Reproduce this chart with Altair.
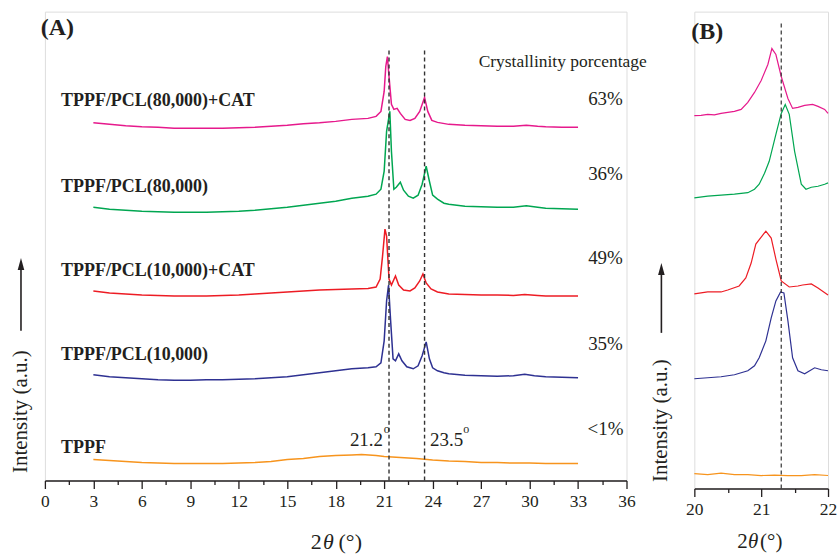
import altair as alt
import pandas as pd

# ---------------- Panel A data (2theta in degrees, intensity in a.u., curves already stacked) ----------------
series_names = ["TPPF", "TPPF/PCL(10,000)", "TPPF/PCL(10,000)+CAT", "TPPF/PCL(80,000)", "TPPF/PCL(80,000)+CAT"]
series_colors = ["#F7941D", "#2E3192", "#ED1C24", "#00A651", "#E6198C"]

a_tppf_x = [3, 4, 5, 6, 7, 8, 9, 10, 11, 12, 13, 14, 15, 16, 17, 18, 19, 19.6, 20.5, 21, 22, 23, 24, 25, 26, 27, 28, 29, 30, 31, 32, 33]
a_tppf_y = [21, 20, 19, 18, 17.5, 17, 17, 17, 17, 17.5, 18, 19, 21, 22, 24, 25, 25.5, 26, 25, 24, 23, 22, 20.5, 19.5, 19, 18, 18, 17.5, 17.5, 17, 17, 17]

a_p10_x = [3, 4, 5, 6, 7, 8, 9, 10, 11, 12, 13, 14, 15, 16, 17, 18, 19, 20, 20.5, 20.8, 21.0, 21.15, 21.27, 21.4, 21.55, 21.7, 21.9, 22.1, 22.4, 22.8, 23.1, 23.35, 23.6, 23.8, 24.0, 24.3, 24.7, 25, 26, 27, 28, 29, 29.7, 30.3, 31, 32, 33]
a_p10_y = [106, 104, 103, 102, 101, 100.5, 100.5, 101, 101, 101.5, 102, 103, 104, 106, 108, 110, 112, 113, 114, 118, 140, 180, 196, 160, 122, 120, 127, 120, 114, 112, 115, 125, 139, 122, 113, 110, 108, 107, 105.5, 105, 104.5, 105, 106.5, 105, 104, 103.5, 103]

a_p10c_x = [3, 4, 5, 6, 7, 8, 9, 10, 11, 12, 13, 14, 15, 16, 17, 18, 19, 20, 20.5, 20.75, 20.9, 21.05, 21.15, 21.3, 21.45, 21.7, 21.9, 22.2, 22.6, 22.9, 23.2, 23.4, 23.6, 23.9, 24.3, 25, 26, 27, 28, 29, 29.7, 30.5, 31, 32, 33]
a_p10c_y = [190, 188, 187, 186, 185.5, 185, 185, 185, 185.5, 186, 187, 188, 189, 190, 191, 191.5, 192, 192.5, 194, 202, 225, 252, 245, 202, 196, 205, 196, 191, 190, 193, 200, 207, 198, 192, 189, 187, 186.5, 186, 186, 185.5, 186.5, 185.5, 185, 185, 185]

a_p80_x = [3, 4, 5, 6, 7, 8, 9, 10, 11, 12, 13, 14, 15, 16, 17, 18, 19, 20, 20.5, 20.8, 21.0, 21.15, 21.35, 21.45, 21.6, 21.75, 22.0, 22.2, 22.5, 22.8, 23.1, 23.35, 23.6, 23.8, 24.0, 24.3, 24.7, 25, 26, 27, 28, 29, 29.8, 30.5, 31, 32, 33]
a_p80_y = [274, 272, 271, 270, 269.5, 269, 269, 269, 269.5, 270, 271, 272.5, 274, 276, 278, 280, 283, 285, 287, 292, 310, 350, 370, 330, 292, 294, 299, 291, 285, 283, 286, 297, 315, 300, 286, 282, 278, 277, 275, 274.5, 274, 274, 275.5, 274, 273, 272.5, 272]

a_p80c_x = [3, 4, 5, 6, 7, 8, 9, 10, 11, 12, 13, 14, 15, 16, 17, 18, 19, 20, 20.5, 20.8, 21.0, 21.1, 21.2, 21.3, 21.45, 21.6, 21.8, 22.0, 22.3, 22.6, 22.9, 23.2, 23.5, 23.7, 23.95, 24.3, 25, 26, 27, 28, 29, 29.8, 30.5, 31, 32, 33]
a_p80c_y = [358.5, 357, 355.5, 354.5, 354, 353, 353, 353, 353, 353.5, 354, 355, 356, 357.5, 358.5, 360, 362, 363, 365, 370, 390, 415, 425, 405, 377, 372, 373, 368, 362, 361, 363, 370, 384, 370, 361, 359, 357, 356, 355.5, 355, 355, 356, 355, 354.5, 354, 354]

# ---------------- Panel B data (zoom 20-22 degrees) ----------------
b_tppf_x = [20, 20.2, 20.4, 20.6, 20.8, 21.0, 21.2, 21.4, 21.6, 21.8, 22]
b_tppf_y = [15, 14, 15.5, 14, 14, 13, 13.5, 13, 13, 14, 13]

b_p10_x = [20, 20.2, 20.4, 20.6, 20.8, 20.9, 20.97, 21.07, 21.15, 21.22, 21.29, 21.34, 21.4, 21.47, 21.55, 21.65, 21.8, 21.9, 22]
b_p10_y = [110, 111, 112, 114, 118, 123, 131, 148, 171, 188, 197, 196, 168, 131, 118, 115, 121, 119, 118]

b_p10c_x = [20, 20.2, 20.4, 20.5, 20.67, 20.77, 20.85, 20.92, 21.0, 21.07, 21.15, 21.22, 21.3, 21.42, 21.55, 21.62, 21.75, 21.85, 22]
b_p10c_y = [195, 197, 197, 199, 203, 211, 226, 245, 252, 258, 251, 230, 208, 202, 203, 204, 205, 201, 194]

b_p80_x = [20, 20.2, 20.4, 20.6, 20.8, 20.9, 20.97, 21.05, 21.12, 21.22, 21.3, 21.36, 21.42, 21.5, 21.6, 21.67, 21.75, 21.85, 21.95, 22]
b_p80_y = [291.3, 293, 294, 295, 296.5, 300, 305, 316, 328, 355, 376, 385, 375, 338, 305, 300, 302, 303, 305, 306.3]

b_p80c_x = [20, 20.1, 20.2, 20.3, 20.4, 20.5, 20.6, 20.7, 20.8, 20.9, 21.0, 21.1, 21.16, 21.22, 21.3, 21.4, 21.47, 21.55, 21.65, 21.77, 21.85, 21.95, 22]
b_p80c_y = [373.7, 374, 375, 374.5, 376, 377, 378, 380, 387, 397, 409, 425, 441, 435, 413, 391, 381, 382, 384, 385, 383, 380, 376]

# ---------------- Annotations ----------------
a_labels = ["TPPF/PCL(80,000)+CAT", "TPPF/PCL(80,000)", "TPPF/PCL(10,000)+CAT", "TPPF/PCL(10,000)", "TPPF"]
a_label_y = [380, 294, 210, 126, 33]
crystallinity = ["63%", "36%", "49%", "35%", "<1%"]
cryst_y = [382, 307, 223, 137, 52]
peak_lines_a = [21.3, 23.5]
peak_text = ["21.2", "23.5"]
peak_line_b = [21.3]

TXT = "#231F20"
FONT = "Liberation Serif"


def long_df(xs_list, ys_list):
    rows = []
    for name, xs, ys in zip(series_names, xs_list, ys_list):
        for xv, yv in zip(xs, ys):
            rows.append({"x": xv, "y": yv, "series": name})
    return pd.DataFrame(rows)


dfA = long_df([a_tppf_x, a_p10_x, a_p10c_x, a_p80_x, a_p80c_x],
              [a_tppf_y, a_p10_y, a_p10c_y, a_p80_y, a_p80c_y])
dfB = long_df([b_tppf_x, b_p10_x, b_p10c_x, b_p80_x, b_p80c_x],
              [b_tppf_y, b_p10_y, b_p10c_y, b_p80_y, b_p80c_y])

color_scale = alt.Scale(domain=series_names, range=series_colors)


def make_axis(values, major_test):
    return alt.Axis(values=values, format=".1f",
                    labelExpr=f"({major_test}) ? format(datum.value, 'd') : ''",
                    tickSize={"condition": {"test": major_test, "value": 8}, "value": 4},
                    title=None, grid=False, labelOverlap=False, labelFlush=False,
                    labelFont=FONT, labelFontSize=17.5, labelColor=TXT, labelPadding=4,
                    domainColor=TXT, domainWidth=1.3, tickColor=TXT, tickWidth=1.3)


ticksA = [i * 1.5 for i in range(25)]
axisA = make_axis(ticksA, "datum.value % 3 === 0")
ticksB = [20, 20.5, 21, 21.5, 22]
axisB = make_axis(ticksB, "datum.value % 1 === 0")

scaleAx = alt.Scale(domain=[0, 36], nice=False, zero=False)
scaleAy = alt.Scale(domain=[0, 470], nice=False, zero=False)
scaleBx = alt.Scale(domain=[20, 22], nice=False, zero=False)
scaleBy = alt.Scale(domain=[0, 478], nice=False, zero=False)


def XA(f="x"):
    return alt.X(f"{f}:Q", scale=scaleAx, axis=axisA)


def YA(f="y"):
    return alt.Y(f"{f}:Q", scale=scaleAy, axis=None)


def XB(f="x"):
    return alt.X(f"{f}:Q", scale=scaleBx, axis=axisB)


def YB(f="y"):
    return alt.Y(f"{f}:Q", scale=scaleBy, axis=None)


def text_layer(df, X, Y, **kw):
    return alt.Chart(df).mark_text(font=FONT, color=TXT, **kw).encode(x=X(), y=Y(), text="t:N")


# ---------------- Panel A ----------------
linesA = alt.Chart(dfA).mark_line(strokeWidth=1.5).encode(
    x=XA(), y=YA(), color=alt.Color("series:N", scale=color_scale, legend=None),
    detail="series:N")

rulesA = alt.Chart(pd.DataFrame({"x": peak_lines_a, "y0": [0, 0], "y1": [432, 432]})).mark_rule(
    strokeDash=[4, 3], color="#333333", strokeWidth=1.4).encode(x=XA(), y=YA("y0"), y2="y1:Q")

labelsA = text_layer(pd.DataFrame({"x": [1.0] * 5, "y": a_label_y, "t": a_labels}), XA, YA,
                     align="left", baseline="middle", fontSize=18, fontWeight="bold")
pctA = text_layer(pd.DataFrame({"x": [34.7] * 5, "y": cryst_y, "t": crystallinity}), XA, YA,
                  align="center", baseline="middle", fontSize=19)
crystTitle = text_layer(pd.DataFrame({"x": [32.05], "y": [420], "t": ["Crystallinity porcentage"]}), XA, YA,
                        align="center", baseline="middle", fontSize=17.5)
peakL = text_layer(pd.DataFrame({"x": [20.93], "y": [41], "t": [peak_text[0]]}), XA, YA,
                   align="right", baseline="middle", fontSize=19)
peakR = text_layer(pd.DataFrame({"x": [23.84], "y": [41], "t": [peak_text[1]]}), XA, YA,
                   align="left", baseline="middle", fontSize=19)
supA = text_layer(pd.DataFrame({"x": [20.97, 25.9], "y": [52, 52], "t": ["o", "o"]}), XA, YA,
                  align="left", baseline="middle", fontSize=12)
tagA = text_layer(pd.DataFrame({"x": [-0.25], "y": [454], "t": ["(A)"]}), XA, YA,
                  align="left", baseline="middle", fontSize=24, fontWeight="bold")
ytA = text_layer(pd.DataFrame({"x": [-1.48], "y": [69], "t": ["Intensity (a.u.)"]}), XA, YA,
                 align="center", baseline="middle", fontSize=21, angle=270)
arrowA = alt.Chart(pd.DataFrame({"x": [-1.48], "y0": [150], "y1": [217]})).mark_rule(
    color=TXT, strokeWidth=1.6).encode(x=XA(), y=YA("y0"), y2="y1:Q")
headA = alt.Chart(pd.DataFrame({"x": [-1.48], "y": [217]})).mark_point(
    shape="M0,-1L0.55,1L-0.55,1Z", size=144, filled=True, color=TXT, opacity=1).encode(x=XA(), y=YA())
xt2A = text_layer(pd.DataFrame({"x": [16.8, 18.9], "y": [-62, -62], "t": ["2", "(°)"]}), XA, YA,
                  align="center", baseline="middle", fontSize=22)
xtThA = text_layer(pd.DataFrame({"x": [17.55], "y": [-62], "t": ["θ"]}), XA, YA,
                   align="center", baseline="middle", fontSize=22, fontStyle="italic")

panelA = alt.layer(linesA, rulesA, labelsA, pctA, crystTitle, peakL, peakR, supA, tagA, ytA,
                   arrowA, headA, xt2A, xtThA).properties(width=583, height=470)

# ---------------- Panel B ----------------
linesB = alt.Chart(dfB).mark_line(strokeWidth=1.2).encode(
    x=XB(), y=YB(), color=alt.Color("series:N", scale=color_scale, legend=None),
    detail="series:N")
rulesB = alt.Chart(pd.DataFrame({"x": peak_line_b, "y0": [0], "y1": [468]})).mark_rule(
    strokeDash=[4, 3], color="#333333", strokeWidth=1.2).encode(x=XB(), y=YB("y0"), y2="y1:Q")
tagB = text_layer(pd.DataFrame({"x": [19.955], "y": [458], "t": ["(B)"]}), XB, YB,
                  align="left", baseline="middle", fontSize=24, fontWeight="bold")
ytB = text_layer(pd.DataFrame({"x": [19.507], "y": [68], "t": ["Intensity (a.u.)"]}), XB, YB,
                 align="center", baseline="middle", fontSize=21, angle=270)
arrowB = alt.Chart(pd.DataFrame({"x": [19.507], "y0": [156], "y1": [220]})).mark_rule(
    color=TXT, strokeWidth=1.6).encode(x=XB(), y=YB("y0"), y2="y1:Q")
headB = alt.Chart(pd.DataFrame({"x": [19.507], "y": [220]})).mark_point(
    shape="M0,-1L0.55,1L-0.55,1Z", size=144, filled=True, color=TXT, opacity=1).encode(x=XB(), y=YB())
xt2B = text_layer(pd.DataFrame({"x": [20.72, 21.15], "y": [-54, -54], "t": ["2", "(°)"]}), XB, YB,
                  align="center", baseline="middle", fontSize=21)
xtThB = text_layer(pd.DataFrame({"x": [20.88], "y": [-54], "t": ["θ"]}), XB, YB,
                   align="center", baseline="middle", fontSize=21, fontStyle="italic")

panelB = alt.layer(linesB, rulesB, tagB, ytB, arrowB, headB, xt2B, xtThB).properties(width=134, height=478)

chart = alt.hconcat(panelA, panelB, spacing=68, bounds="flush").properties(
    padding={"left": 9, "top": 10, "right": 0, "bottom": 0}
).configure_view(stroke=None).configure(background="white", font=FONT)

chart.save("out.html", embed_options={"renderer": "svg", "actions": False})
